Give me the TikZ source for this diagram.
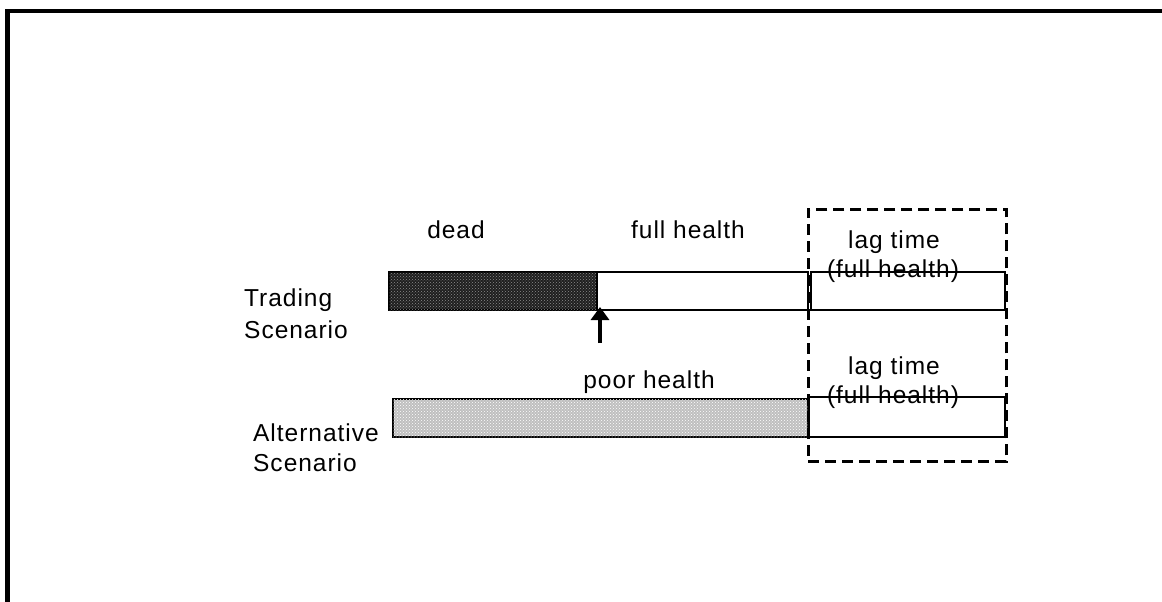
\documentclass[tikz,border=0pt]{standalone}
\usepackage{fontspec}
\setmainfont{Liberation Sans}[LetterSpace=4]
\usetikzlibrary{patterns,arrows.meta}
\begin{document}
\begin{tikzpicture}[x=1pt,y=-1pt,
  lbl/.style={font=\fontsize{24.5}{30}\selectfont, inner sep=0pt},
  bar/.style={draw, line width=1.6pt, anchor=north west, inner sep=0pt, outer sep=0pt},
  darkfill/.style={fill=black!88, postaction={pattern=crosshatch dots, pattern color=white!55!black}},
  lightfill/.style={fill=black!25, postaction={pattern=crosshatch dots, pattern color=white}},
  dashbox/.style={draw, line width=2.6pt, dash pattern=on 11pt off 6pt},
  arrowline/.style={line width=3.2pt, -{Triangle[width=18pt,length=13pt]}}
]
\useasboundingbox (0,0) rectangle (1162,602);
% frame (clipped on right and bottom)
\draw[line width=4.5pt] (7.5,610) -- (7.5,11) -- (1175,11);

% Trading scenario bars
\node[bar, darkfill, minimum width=208pt, minimum height=38pt] (dead) at (389,272) {};
\node[bar, minimum width=211pt, minimum height=38pt] (full) at (597,272) {};
\node[bar, minimum width=194pt, minimum height=38pt] (lagA) at (811,272) {};

% Alternative scenario bars
\node[bar, lightfill, minimum width=415pt, minimum height=38pt] (poor) at (393,399) {};
\node[bar, minimum width=196pt, minimum height=40pt] (lagB) at (809,397) {};

% dashed lag box
\node[dashbox, anchor=north west, minimum width=198pt, minimum height=252pt, inner sep=0pt] (lagbox) at (807,208) {};

% arrow
\coordinate (arrtail) at (600,343);
\draw[arrowline] (arrtail) -- ([xshift=3pt,yshift=3pt]dead.south east);

% labels
\node[lbl] (tdead) at (456,230) {dead};
\node[lbl] (tfull) at (688,230) {full health};
\node[lbl] (tlagA) at (894,242) {lag time};
\node[lbl] (tlagA2) at (893,271) {(full health)};
\node[lbl] (tpoor) at (649,382) {poor health};
\node[lbl] (tlagB) at (894,368) {lag time};
\node[lbl] (tlagB2) at (893,397) {(full health)};
\node[lbl, anchor=west] (ttr1) at (244,300) {Trading};
\node[lbl, anchor=west] (ttr2) at (244,330) {Scenario};
\node[lbl, anchor=west] (tal1) at (253,433) {Alternative};
\node[lbl, anchor=west] (tal2) at (253,463) {Scenario};
\end{tikzpicture}
\end{document}
